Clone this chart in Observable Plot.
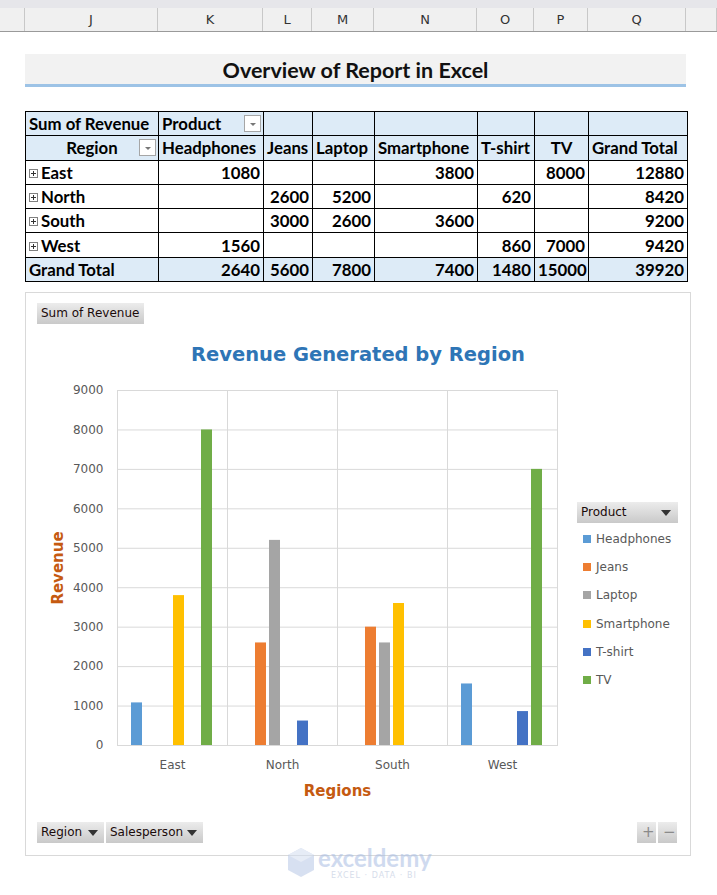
<!DOCTYPE html>
<html>
<head>
<meta charset="utf-8">
<script src="https://cdn.jsdelivr.net/npm/d3@7"></script>
<script src="https://cdn.jsdelivr.net/npm/@observablehq/plot@0.6"></script>
<style>
  html, body { margin: 0; padding: 0; background: #fff; }
  #page { position: relative; width: 717px; height: 895px; overflow: hidden; font-family: Lato, "DejaVu Sans", sans-serif; }
  .abs { position: absolute; }
  /* spreadsheet column header strip */
  #topband { left: 0; top: 0; width: 717px; height: 8px; background: #e6e6ea; }
  #colhead { left: 0; top: 8px; width: 717px; height: 23px; background: #f0f0f0; border-bottom: 1px solid #9a9a9a; }
  .colcell { position: absolute; top: 0; height: 23px; line-height: 23px; text-align: center; font-family: "DejaVu Sans", sans-serif; font-size: 13px; color: #333; border-right: 1px solid #c8c8c8; box-sizing: border-box; }
  /* report heading */
  #heading { left: 25px; top: 54px; width: 661px; height: 30px; background: #f2f2f2; border-bottom: 3px solid #9dc3e6; text-align: center; font-weight: bold; font-size: 21.5px; line-height: 32px; color: #111; }
  /* pivot table */
  #pivot { left: 25px; top: 111px; border-collapse: collapse; table-layout: fixed; width: 662px; font-weight: bold; font-size: 16.8px; color: #000; }
  #pivot td { border: 1px solid #000; height: 24.3px; padding: 0 3px; box-sizing: border-box; white-space: nowrap; overflow: hidden; text-align: right; position: relative; }
  #pivot tr.hdr td, #pivot tr.tot td { background: #ddebf7; }
  #pivot td.l { text-align: left; }
  #pivot td.c { text-align: center; }
  .dd { position: absolute; right: 2px; top: 3px; width: 17px; height: 17px; box-sizing: border-box; border: 1px solid #a6a6a6; background: #fff; }
  .dd::after { content: ""; position: absolute; left: 5px; top: 7px; border-left: 3px solid transparent; border-right: 3px solid transparent; border-top: 3px solid #777; }
  .pm { display: inline-block; width: 9px; height: 9px; border: 1px solid #808080; box-sizing: border-box; position: relative; margin-right: 3px; vertical-align: 1px; background: #fff; }
  .pm::before { content: ""; position: absolute; left: 1px; top: 3px; width: 5px; height: 1px; background: #333; }
  .pm::after { content: ""; position: absolute; left: 3px; top: 1px; width: 1px; height: 5px; background: #333; }
  /* chart area */
  #chartbox { left: 25px; top: 292px; width: 666px; height: 564px; border: 1px solid #d9d9d9; box-sizing: border-box; }
  .btn { position: absolute; height: 21px; line-height: 21px; font-family: "DejaVu Sans", sans-serif; font-size: 12px; color: #1a0a0a; background: linear-gradient(#ececec, #c9c9c9); padding-left: 4px; box-sizing: border-box; }
  .tri { position: absolute; top: 8px; border-left: 5px solid transparent; border-right: 5px solid transparent; border-top: 6px solid #333; }
  #ctitle { left: 25px; top: 343px; width: 666px; text-align: center; font-family: "Comic Sans MS", "DejaVu Sans", sans-serif; font-weight: bold; font-size: 19.5px; color: #2e75b6; }
  #chart { left: 30px; top: 380px; }
  #chart g[aria-label="y-axis label"] text, #chart g[aria-label="fx-axis label"] text { fill: #c55a11; font-weight: bold; font-size: 15px; font-family: "Comic Sans MS", "DejaVu Sans", sans-serif; }
  .leg { position: absolute; left: 583px; font-family: "DejaVu Sans", sans-serif; font-size: 12px; color: #595959; height: 16px; line-height: 16px; }
  .sw { display: inline-block; width: 8px; height: 8px; margin-right: 5px; vertical-align: 0px; }
  #wm { left: 287px; top: 845px; opacity: 0.55; }
</style>
</head>
<body>
<div id="page">
  <div id="topband" class="abs"></div>
  <div id="colhead" class="abs"></div>
  <div id="heading" class="abs">Overview of Report in Excel</div>
  <table id="pivot" class="abs"></table>
  <div id="chartbox" class="abs"></div>
  <div class="btn" style="left:37px;top:303px;width:107px;">Sum of Revenue</div>
  <div id="ctitle" class="abs">Revenue Generated by Region</div>
  <div id="chart" class="abs"></div>
  <div class="btn" style="left:577px;top:502px;width:101px;">Product<span class="tri" style="left:84px;"></span></div>
  <div id="legend"></div>
  <div class="btn" style="left:37px;top:822px;width:67px;">Region<span class="tri" style="left:51px;"></span></div>
  <div class="btn" style="left:106px;top:822px;width:97px;">Salesperson<span class="tri" style="left:81px;"></span></div>
  <div class="btn" style="left:637px;top:822px;width:19px;padding-left:5px;color:#8a8a8a;font-size:15px;">+</div>
  <div class="btn" style="left:658px;top:822px;width:19px;padding-left:5px;color:#8a8a8a;font-size:15px;">−</div>
  <div id="wm" class="abs">
    <svg width="150" height="40">
      <polygon points="14,3 27,10 27,25 14,32 1,25 1,10" fill="#b8c8e6"/>
      <polygon points="14,3 27,10 14,17 1,10" fill="#d3ddf0"/>
      <text x="31" y="22" font-family="Lato, sans-serif" font-weight="bold" font-size="24" fill="#a9bde3">exceldemy</text>
      <text x="44" y="33" font-family="DejaVu Sans, sans-serif" font-size="8" fill="#b5c2da" letter-spacing="1">EXCEL · DATA · BI</text>
    </svg>
  </div>
</div>
<script>
// Spreadsheet column letters with their right edges
const sheetColumns = ["", "J", "K", "L", "M", "N", "O", "P", "Q", ""];
const sheetColumnEdges = [0, 25, 158, 263, 312, 374, 477, 534, 588, 686, 717];

// Revenue by region and product
const regions = ["East", "North", "South", "West"];
const products = ["Headphones", "Jeans", "Laptop", "Smartphone", "T-shirt", "TV"];
const eastRevenue = [1080, null, null, 3800, null, 8000];
const northRevenue = [null, 2600, 5200, null, 620, null];
const southRevenue = [null, 3000, 2600, 3600, null, null];
const westRevenue = [1560, null, null, null, 860, 7000];
const productColors = ["#5b9bd5", "#ed7d31", "#a5a5a5", "#ffc000", "#4472c4", "#70ad47"];
const yTicks = [0, 1000, 2000, 3000, 4000, 5000, 6000, 7000, 8000, 9000];

const revenueByRegion = [eastRevenue, northRevenue, southRevenue, westRevenue];
const rows = regions.flatMap((region, i) =>
  products.map((product, j) => ({region, product, revenue: revenueByRegion[i][j]}))
).filter(d => d.revenue != null);

// Column header strip
const colhead = document.getElementById("colhead");
sheetColumns.forEach((c, i) => {
  const el = document.createElement("div");
  el.className = "colcell";
  el.style.left = sheetColumnEdges[i] + "px";
  el.style.width = (sheetColumnEdges[i + 1] - sheetColumnEdges[i]) + "px";
  el.textContent = c;
  colhead.appendChild(el);
});

// Pivot table
const colWidths = [133, 105, 49, 62, 103, 57, 54, 99];
const table = document.getElementById("pivot");
const colgroup = document.createElement("colgroup");
colWidths.forEach(w => { const c = document.createElement("col"); c.style.width = w + "px"; colgroup.appendChild(c); });
table.appendChild(colgroup);
const fmt = v => v == null ? "" : String(v);
function addRow(cls, cells) {
  const tr = document.createElement("tr");
  if (cls) tr.className = cls;
  cells.forEach(c => {
    const td = document.createElement("td");
    if (c.cls) td.className = c.cls;
    td.innerHTML = c.html;
    tr.appendChild(td);
  });
  table.appendChild(tr);
}
addRow("hdr", [
  {html: "Sum of Revenue", cls: "l"},
  {html: "Product<span class='dd'></span>", cls: "l"},
  ...products.map(() => ({html: ""}))
]);
addRow("hdr", [
  {html: "Region<span class='dd'></span>", cls: "c"},
  ...products.map(p => ({html: p, cls: p === "TV" ? "c" : "l"})),
  {html: "Grand Total", cls: "l"}
]);
regions.forEach((r, i) => {
  const vals = revenueByRegion[i];
  addRow("", [
    {html: "<span class='pm'></span>" + r, cls: "l"},
    ...vals.map(v => ({html: fmt(v)})),
    {html: fmt(d3.sum(vals))}
  ]);
});
addRow("tot", [
  {html: "Grand Total", cls: "l"},
  ...products.map((p, j) => ({html: fmt(d3.sum(revenueByRegion, v => v[j]))})),
  {html: fmt(d3.sum(revenueByRegion, v => d3.sum(v)))}
]);

// Clustered column chart, one facet per region
const chart = Plot.plot({
  width: 540,
  height: 430,
  marginLeft: 87,
  marginRight: 13,
  marginTop: 10,
  marginBottom: 65,
  style: {fontFamily: "DejaVu Sans, sans-serif", fontSize: "12px", color: "#595959", background: "transparent"},
  fx: {domain: regions, padding: 0, axis: "bottom", tickSize: 0, tickPadding: 15, label: "Regions", labelAnchor: "center", labelOffset: 50, labelArrow: "none"},
  x: {domain: products, axis: null, paddingInner: 0.18, paddingOuter: 0.86},
  y: {domain: [0, 9000], ticks: yTicks, tickFormat: d => String(d), tickSize: 0, tickPadding: 14, label: "Revenue", labelAnchor: "center", labelOffset: 65, labelArrow: "none"},
  color: {domain: products, range: productColors},
  marks: [
    Plot.ruleY(yTicks, {stroke: "#d9d9d9"}),
    Plot.frame({stroke: "#d9d9d9"}),
    Plot.barY(rows, {fx: "region", x: "product", y: "revenue", fill: "product"})
  ]
});
document.getElementById("chart").appendChild(chart);

// Legend from the chart's color scale
const colorScale = chart.scale("color");
const legend = document.getElementById("legend");
colorScale.domain.forEach((p, i) => {
  const el = document.createElement("div");
  el.className = "leg";
  el.style.top = (531 + i * 28.2) + "px";
  el.innerHTML = `<span class="sw" style="background:${colorScale.range[i]}"></span>${p}`;
  legend.appendChild(el);
});
</script>
</body>
</html>
